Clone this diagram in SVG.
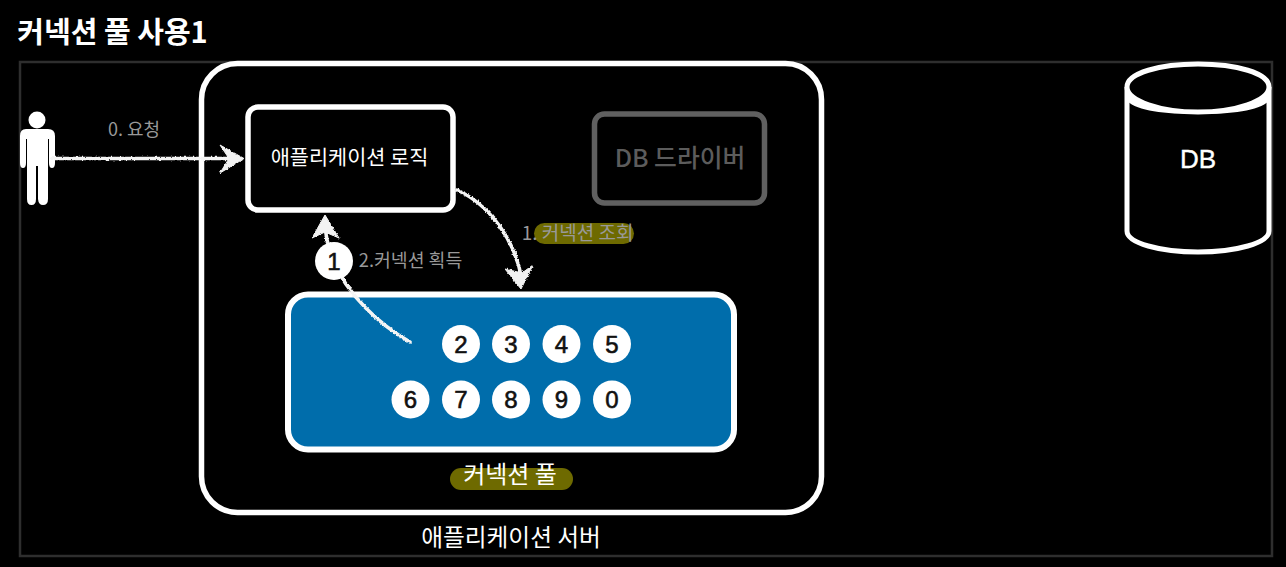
<svg xmlns="http://www.w3.org/2000/svg" width="1286" height="567" viewBox="0 0 1286 567">
<defs>
<filter id="chalk" x="-10%" y="-30%" width="120%" height="160%"><feTurbulence type="fractalNoise" baseFrequency="0.45" numOctaves="2" seed="4" result="t"/><feDisplacementMap in="SourceGraphic" in2="t" scale="3" xChannelSelector="R" yChannelSelector="G"/></filter>
<style>
text{font-family:"Liberation Sans","Noto Sans CJK KR",sans-serif;text-anchor:middle}
.k{font-family:"Noto Sans CJK KR","Liberation Sans",sans-serif}
.box{fill:none;stroke:#fff;stroke-width:5.5}
.lbl{fill:#999;font-size:18px}
.n circle{fill:#fff}
.n text{font-size:24px;fill:#111;stroke:#111;stroke-width:.6}
.arrow{fill:none;stroke:#f4f4f4;stroke-width:3.500;stroke-linecap:round}
.head{fill:#f2f2f2;stroke:#f2f2f2;stroke-width:1;stroke-linejoin:round}
</style>
</defs>
<rect width="1286" height="567" fill="#000"/>
<text class="k" x="112.500" y="43" font-size="29" font-weight="700" fill="#fff">커넥션 풀 사용1</text>
<g id="frame"><rect x="20" y="62" width="1252" height="494" fill="none" stroke="#2e2e2e" stroke-width="2.500"/></g>
<g id="app-server"><rect class="box" x="201.500" y="63.500" width="620" height="449" rx="36"/>
<text class="k" x="511" y="546" font-size="23.700" fill="#fff">애플리케이션 서버</text></g>
<g id="user"><circle cx="37" cy="120" r="8.500" fill="#fff"/>
<path d="M26 129H48Q55 129 55 136V163Q55 168 52 168 49 168 49 163V139H48V199Q48 205 43 205 38.500 205 38 199V166H36V199Q36 205 31.500 205 27 205 27 199V139H26V163Q26 168 23 168 20 168 20 163V136Q20 129 26 129Z" fill="#fff"/></g>
<g id="logic"><rect class="box" x="248" y="107" width="205" height="103" rx="10" fill="#000"/>
<text class="k" x="349.500" y="165" font-size="20.800" fill="#fff">애플리케이션 로직</text></g>
<g id="driver"><rect x="594.500" y="114" width="170" height="89" rx="10" fill="none" stroke="#606060" stroke-width="5.500"/>
<text class="k" x="680" y="167" font-size="24.800" font-weight="500" fill="#5c5c5c">DB 드라이버</text></g>
<g id="pool"><rect x="288" y="294.500" width="446" height="155" rx="20" fill="#006dab" stroke="#fff" stroke-width="6"/></g>
<g id="pool-label"><rect x="450" y="468" width="123" height="22" rx="11" fill="#6e6a00"/>
<text class="k" x="510" y="483" font-size="24" fill="#fff">커넥션 풀</text></g>
<g id="db"><path d="M1127 87V231C1127 243 1160 252 1198 252S1269 243 1269 231V87" fill="#000" stroke="#fff" stroke-width="5"/>
<path d="M1127 87C1127 73 1160 64 1198 64S1269 73 1269 87C1269 101 1235 112 1198 112S1127 101 1127 87Z" fill="#000" stroke="#fff" stroke-width="5"/>
<path d="M1127 93C1138 107 1165 112 1198 112S1258 107 1269 93V101C1258 111 1232 114 1198 114S1138 111 1127 101Z" fill="#fff"/>
<text x="1198" y="168" font-size="26" fill="#fff" stroke="#fff" stroke-width=".4">DB</text></g>
<g id="connectors" filter="url(#chalk)">
<path class="arrow" d="M52 158.500H240"/>
<path class="head" d="M220 145L244 158.500 220 173 229 158.500Z"/>
<path class="arrow" d="M410 342C380 325 347 295 333 260 328 245 325 235 325 222"/>
<path class="head" d="M312 238L325 215 339 238 325 232Z"/>
<path class="arrow" d="M457 190C490 205 515 240 522 280"/>
<path class="head" d="M505 269L521 289 533 265 522 273Z"/>
</g>
<text class="lbl k" x="134" y="136">0. 요청</text>
<g id="label-1"><rect x="534" y="223" width="100" height="21" rx="10.500" fill="#6e6a00"/>
<text class="lbl k" x="577.500" y="240" font-size="19" style="font-size:19px">1. 커넥션 조회</text></g>
<text class="lbl k" x="410.500" y="267" style="font-size:18.300px">2.커넥션 획득</text>
<g id="c1" class="n"><circle cx="334" cy="261" r="19"/><text x="334" y="269.500">1</text></g>
<g id="c2" class="n"><circle cx="461" cy="344" r="19"/><text x="461" y="352.500">2</text></g>
<g id="c3" class="n"><circle cx="511" cy="344" r="19"/><text x="511" y="352.500">3</text></g>
<g id="c4" class="n"><circle cx="561.500" cy="344" r="19"/><text x="561.500" y="352.500">4</text></g>
<g id="c5" class="n"><circle cx="612" cy="344" r="19"/><text x="612" y="352.500">5</text></g>
<g id="c6" class="n"><circle cx="410.500" cy="399.500" r="19"/><text x="410.500" y="408">6</text></g>
<g id="c7" class="n"><circle cx="461" cy="399.500" r="19"/><text x="461" y="408">7</text></g>
<g id="c8" class="n"><circle cx="511" cy="399.500" r="19"/><text x="511" y="408">8</text></g>
<g id="c9" class="n"><circle cx="561.500" cy="399.500" r="19"/><text x="561.500" y="408">9</text></g>
<g id="c0" class="n"><circle cx="612" cy="399.500" r="19"/><text x="612" y="408">0</text></g>
</svg>
